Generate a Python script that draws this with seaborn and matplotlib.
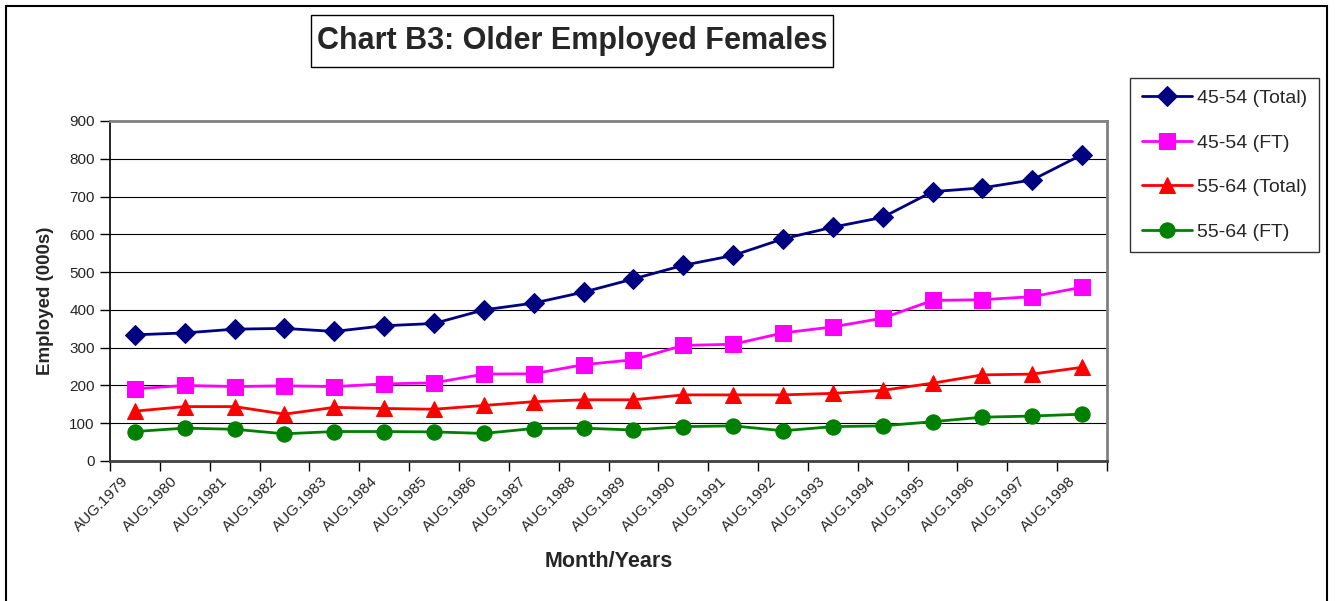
import matplotlib
matplotlib.use("Agg")
import matplotlib.pyplot as plt
import matplotlib.patches as patches
import matplotlib.transforms as transforms
import numpy as np
import pandas as pd
import seaborn as sns

years = ["AUG.1979", "AUG.1980", "AUG.1981", "AUG.1982", "AUG.1983",
         "AUG.1984", "AUG.1985", "AUG.1986", "AUG.1987", "AUG.1988",
         "AUG.1989", "AUG.1990", "AUG.1991", "AUG.1992", "AUG.1993",
         "AUG.1994", "AUG.1995", "AUG.1996", "AUG.1997", "AUG.1998"]

total_45_54 = [334, 339, 349, 351, 343, 358, 364, 400, 418, 447,
               482, 518, 544, 588, 619, 645, 713, 723, 744, 811]
ft_45_54 = [191, 200, 197, 199, 197, 204, 207, 230, 231, 255,
            268, 306, 309, 339, 355, 378, 425, 427, 435, 460]
total_55_64 = [132, 144, 144, 124, 142, 139, 137, 147, 157, 162,
               162, 175, 175, 175, 179, 187, 206, 228, 230, 248]
ft_55_64 = [78, 87, 84, 72, 78, 78, 77, 73, 86, 87,
            82, 91, 93, 80, 91, 93, 104, 116, 119, 124]

series_names = ["45-54 (Total)", "45-54 (FT)", "55-64 (Total)", "55-64 (FT)"]
series_values = [total_45_54, ft_45_54, total_55_64, ft_55_64]
colors = ["#000080", "#FF00FF", "#FF0000", "#008000"]
markers = ["D", "s", "^", "o"]
marker_sizes = [10.5, 11, 11, 11]

rows = []
for name, values in zip(series_names, series_values):
    for i, v in enumerate(values):
        rows.append({"pos": i, "series": name, "value": v})
df = pd.DataFrame(rows)

sns.set_style("white")
plt.rcParams["font.family"] = ["Liberation Sans", "DejaVu Sans"]

fig = plt.figure(figsize=(13.35, 6.01), dpi=100)
ax = fig.add_axes([110 / 1335, 140 / 601, 997 / 1335, 340 / 601])

for name, color, marker, ms in zip(series_names, colors, markers, marker_sizes):
    sub = df[df["series"] == name]
    sns.lineplot(data=sub, x="pos", y="value", ax=ax, color=color,
                 marker=marker, markersize=ms, markeredgecolor=color,
                 linewidth=2, label=name, zorder=3)

n = len(years)
ax.set_xlim(-0.5, n - 0.5)
ax.set_ylim(0, 900)
ax.set_yticks(np.arange(0, 901, 100))
ax.yaxis.grid(True, color="black", linewidth=0.8)
ax.set_axisbelow(True)

ax.set_xticks(np.arange(-0.5, n, 1))
ax.set_xticklabels([])
ax.set_xticks(np.arange(n), minor=True)
ax.set_xticklabels(years, minor=True, rotation=45, ha="right",
                   va="center", rotation_mode="anchor", fontsize=11)
ax.tick_params(axis="x", which="major", direction="out", length=7,
               width=1, color="black", bottom=True)
ax.tick_params(axis="x", which="minor", length=0, pad=13)
ax.tick_params(axis="y", direction="out", length=7, width=1,
               color="black", labelsize=11, left=True, pad=4)
offset = transforms.ScaledTranslation(-9 / 100, 0, fig.dpi_scale_trans)
for lab in ax.get_xticklabels(minor=True):
    lab.set_transform(lab.get_transform() + offset)

for side in ["top", "right"]:
    ax.spines[side].set_color("#808080")
    ax.spines[side].set_linewidth(2)
ax.spines["left"].set_color("black")
ax.spines["left"].set_linewidth(1.2)
ax.spines["bottom"].set_color("#404040")
ax.spines["bottom"].set_linewidth(2)

ax.set_xlabel("Month/Years", fontsize=15.5, fontweight="bold")
ax.set_ylabel("Employed (000s)", fontsize=13.5, fontweight="bold")
ax.xaxis.set_label_coords(0.5, -0.265)
ax.yaxis.set_label_coords(-0.056, 0.47)

handles, labels = ax.get_legend_handles_labels()
ax.legend_.remove()
leg = fig.legend(handles, labels, loc="upper left",
                 bbox_to_anchor=(1130 / 1335, 1 - 78 / 601),
                 borderaxespad=0, frameon=True, fancybox=False,
                 edgecolor="black", fontsize=14, labelspacing=1.38,
                 handlelength=2.6, handletextpad=0.25, borderpad=0.6)
leg.get_frame().set_linewidth(1)

# title box
fig.add_artist(patches.Rectangle((311 / 1335, 1 - 67 / 601), 522 / 1335, 52 / 601,
                                 transform=fig.transFigure, fill=False,
                                 edgecolor="black", linewidth=1))
fig.text(572 / 1335, 1 - 41 / 601, "Chart B3: Older Employed Females",
         ha="center", va="center", fontsize=22, fontweight="bold")

# outer chart border
fig.add_artist(patches.Rectangle((6 / 1335, -0.05), 1321 / 1335, 1.05 - 6 / 601,
                                 transform=fig.transFigure, fill=False,
                                 edgecolor="black", linewidth=1.5))

fig.savefig("out.png", dpi=100)
